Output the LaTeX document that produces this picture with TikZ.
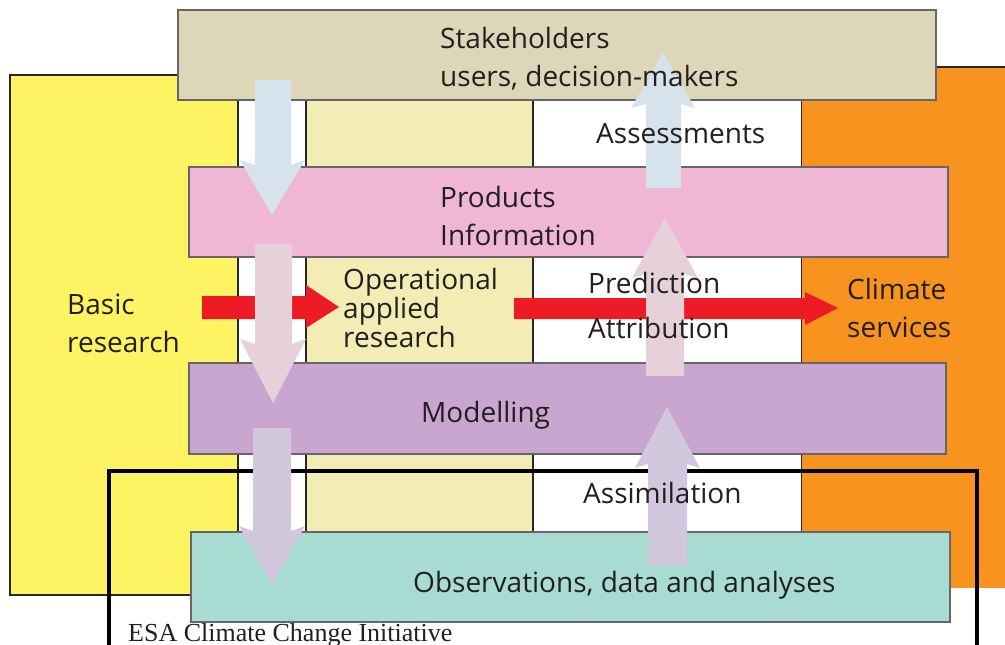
\documentclass[tikz,border=0pt]{standalone}
\usepackage{fontspec}
\setmainfont{Open Sans}
\newfontfamily\esafont{Liberation Serif}

\definecolor{tanbox}{HTML}{DDD6B9}
\definecolor{pinkbox}{HTML}{EFB7D5}
\definecolor{lilacbox}{HTML}{C9A6D0}
\definecolor{tealbox}{HTML}{A8DCD2}
\definecolor{basicyellow}{HTML}{FEF363}
\definecolor{appliedyellow}{HTML}{F3EDB5}
\definecolor{serviceorange}{HTML}{F7931E}
\definecolor{flowred}{HTML}{ED1C24}
\definecolor{arrowblue}{HTML}{D6E3EC}
\definecolor{arrowpink}{HTML}{E6D0D9}
\definecolor{arrowlilac}{HTML}{D2C8DE}
\definecolor{inkgray}{HTML}{231F20}

\begin{document}
\begin{tikzpicture}[x=1pt,y=-1pt,
    layer/.style={draw=gray!80!black, line width=1.3pt},
    label/.style={inner sep=0pt, anchor=base west, align=left, text=inkgray,
                  font=\fontsize{28}{38}\selectfont},
    colline/.style={line width=2pt, draw=black!85}]

    \useasboundingbox (0,0) rectangle (1005,645);

    % background: basic research, applied research, climate services
    \fill[basicyellow] (10,75) rectangle (238,595);
    \draw[colline] (238,75) -- (10,75) -- (10,595) -- (238,595);
    \fill[serviceorange] (801,67) rectangle (1010,588);
    \draw[colline] (801,533) -- (801,67) -- (1010,67);
    \fill[white] (238,100) rectangle (801,533);
    \fill[appliedyellow] (306,100) rectangle (533,533);
    \draw[colline] (238,75) -- (238,533);   % column lines
    \draw[colline] (306,100) -- (306,533);
    \draw[colline] (533,100) -- (533,533);

    % ESA frame
    \draw[line width=3.5pt] (109,660) -- (109,471) -- (977,471) -- (977,660);

    % the four layers
    \filldraw[fill=tanbox, layer] (178,10) rectangle (936,100);
    \filldraw[fill=pinkbox, layer] (189,167) rectangle (948,257);
    \filldraw[fill=lilacbox, layer] (189,363) rectangle (946,454);
    \filldraw[fill=tealbox, layer] (191,532) rectangle (950,622);

    % red arrows
    \fill[flowred] (202,296) -- (306,296) -- (306,285) -- (339,307) -- (306,328) -- (306,319) -- (202,319) -- cycle;
    \fill[flowred] (514,298) -- (805,298) -- (805,292) -- (838,308) -- (805,325) -- (805,319) -- (514,319) -- cycle;

    % downward arrows
    \fill[arrowblue] (255,80) -- (291,80) -- (291,165) -- (305,160) -- (272,215) -- (240,160) -- (255,165) -- cycle;
    \fill[arrowpink] (255,244) -- (292,244) -- (292,344) -- (306,339) -- (273,403) -- (240,339) -- (255,344) -- cycle;
    \fill[arrowlilac] (253,428) -- (291,428) -- (291,531) -- (305,526) -- (272,585) -- (239,526) -- (253,531) -- cycle;

    % upward arrows
    \fill[arrowblue] (646,188) -- (681,188) -- (681,104) -- (695,108) -- (663,53) -- (631,108) -- (646,104) -- cycle;
    \fill[arrowpink] (646,376) -- (684,376) -- (684,274) -- (698,278) -- (665,218) -- (632,278) -- (646,274) -- cycle;
    \fill[arrowlilac] (648,565) -- (687,565) -- (687,464) -- (700,468) -- (667,407) -- (635,468) -- (648,464) -- cycle;

    % labels (base = last line)
    \node[label] (stake) at (440,86) {Stakeholders\\users, decision-makers};
    \node[label] (assess) at (596,143) {Assessments};
    \node[label] (prod) at (440,245) {Products\\Information};
    \node[label] (basic) at (67,352) {Basic\\research};
    \node[label, font=\fontsize{28}{27.5}\selectfont] (oper) at (343,347) {Operational\\applied\\research};
    \node[label] (pred) at (588,293) {Prediction};
    \node[label] (attr) at (588,338) {Attribution};
    \node[label] (serv) at (847,337) {Climate\\services};
    \node[label] (model) at (421,422) {Modelling};
    \node[label] (assim) at (583,503) {Assimilation};
    \node[label] (obs) at (413,592) {Observations, data and analyses};
    \node[inner sep=0pt, anchor=base west, text=inkgray, font=\esafont\fontsize{26}{26}\selectfont]
        (esa) at (128,641) {ESA Climate Change Initiative};

\end{tikzpicture}
\end{document}
